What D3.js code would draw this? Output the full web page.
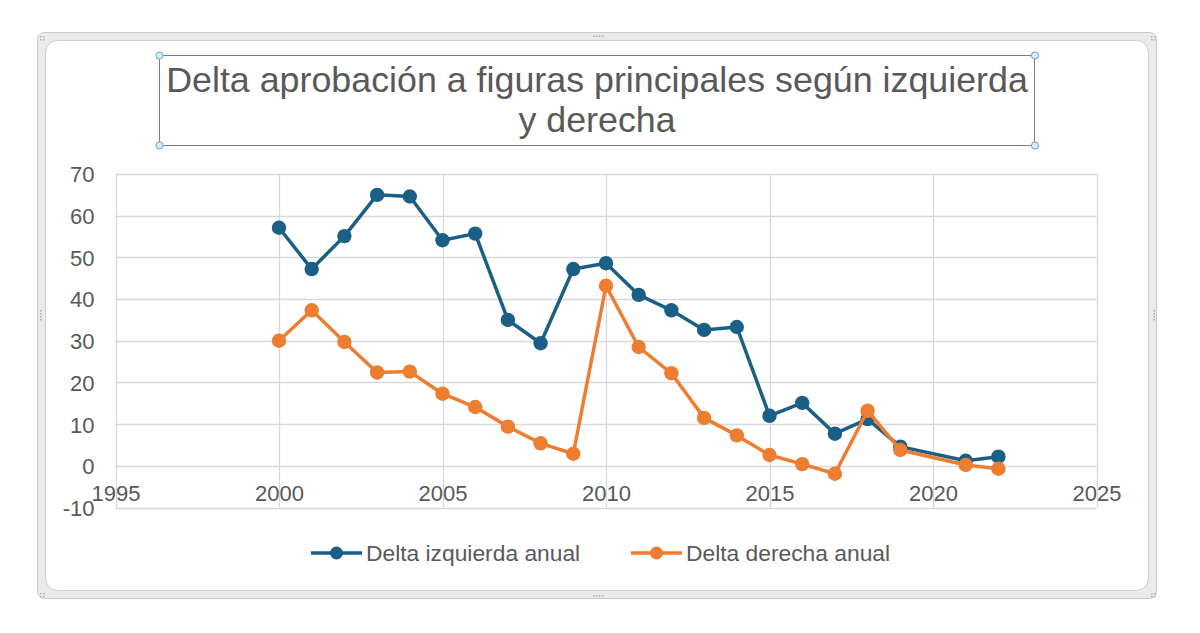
<!DOCTYPE html>
<html>
<head>
<meta charset="utf-8">
<script src="https://cdn.jsdelivr.net/npm/d3@7"></script>
<style>
  html, body { margin: 0; padding: 0; background: #ffffff; }
  svg { display: block; }
  text { font-family: "Liberation Sans", Arial, sans-serif; fill: #595959; }
</style>
</head>
<body>
<svg id="chart" width="1200" height="633"></svg>
<script>
// ---- data ----
const years = [2000, 2001, 2002, 2003, 2004, 2005, 2006, 2007, 2008, 2009, 2010, 2011, 2012, 2013, 2014, 2015, 2016, 2017, 2018, 2019, 2021, 2022];
const deltaIzquierda = [57.1, 47.2, 55.1, 65.0, 64.6, 54.1, 55.7, 35.0, 29.4, 47.2, 48.6, 41.0, 37.3, 32.6, 33.3, 12.0, 15.1, 7.7, 11.2, 4.6, 1.2, 2.2];
const deltaDerecha  = [30.0, 37.3, 29.7, 22.4, 22.6, 17.3, 14.1, 9.4, 5.4, 2.9, 43.2, 28.5, 22.2, 11.5, 7.3, 2.6, 0.4, -1.9, 13.2, 3.8, 0.2, -0.7];
const xTicks = [1995, 2000, 2005, 2010, 2015, 2020, 2025];
const yTicks = [-10, 0, 10, 20, 30, 40, 50, 60, 70];
const seriesNames = ["Delta izquierda anual", "Delta derecha anual"];
const titleLines = ["Delta aprobación a figuras principales según izquierda", "y derecha"];

const colors = ["#1b5f86", "#ed7d31"];

const svg = d3.select("#chart");

// ---- outer frame (chart container) ----
svg.append("rect").attr("x", 37.5).attr("y", 32.5).attr("width", 1119).attr("height", 566)
  .attr("rx", 7).attr("fill", "#ebebeb").attr("stroke", "#c9c9c9");
svg.append("rect").attr("x", 45.5).attr("y", 40.5).attr("width", 1103).attr("height", 550)
  .attr("rx", 12).attr("fill", "#ffffff").attr("stroke", "#cfcfcf");

// handle dots
const dotGroups = [[593, 35.5, "h"], [593, 595, "h"], [40, 310, "v"], [1153.5, 310, "v"]];
dotGroups.forEach(([x, y, o]) => {
  for (let i = 0; i < 4; i++) {
    svg.append("rect")
      .attr("x", o === "h" ? x + i * 3 : x)
      .attr("y", o === "h" ? y : y + i * 3)
      .attr("width", 1.5).attr("height", 1.5).attr("fill", "#a8a8a8");
  }
});
[[40, 36], [1151, 36], [40, 593], [1151, 593]].forEach(([x, y]) => {
  [[0,0],[3,0],[0,3],[3,3]].forEach(([dx,dy]) => {
    svg.append("rect").attr("x", x+dx).attr("y", y+dy).attr("width", 1.5).attr("height", 1.5).attr("fill", "#b0b0b0");
  });
});

// ---- scales ----
const x = d3.scaleLinear().domain([1995, 2025]).range([115.5, 1096.5]);
const y = d3.scaleLinear().domain([-10, 70]).range([507.5, 174]);

// ---- gridlines ----
const grid = svg.append("g");
grid.selectAll("line.h").data(yTicks).join("line")
  .attr("x1", x(1995)).attr("x2", x(2025))
  .attr("y1", d => Math.round(y(d)) + 0.5).attr("y2", d => Math.round(y(d)) + 0.5)
  .attr("stroke", "#d9d9d9").attr("stroke-width", 1.3);
grid.selectAll("line.v").data(xTicks).join("line")
  .attr("y1", y(70)).attr("y2", y(-10))
  .attr("x1", d => Math.round(x(d)) + 0.5).attr("x2", d => Math.round(x(d)) + 0.5)
  .attr("stroke", "#d9d9d9").attr("stroke-width", 1.3);

// ---- axes (labels via d3 axes) ----
const yAxis = d3.axisLeft(y).tickValues(yTicks).tickSize(0).tickPadding(0).tickFormat(d => String(d));
const gy = svg.append("g").attr("transform", `translate(${x(1995) - 21},0)`).call(yAxis);
gy.select(".domain").remove();
gy.selectAll("text").attr("font-size", 22).attr("fill", "#595959")
  .attr("font-family", "Liberation Sans, Arial, sans-serif").attr("dy", "0.36em");

const xAxis = d3.axisBottom(x).tickValues(xTicks).tickSize(0).tickPadding(0).tickFormat(d => String(d));
const gx = svg.append("g").attr("transform", `translate(0,${y(0)})`).call(xAxis);
gx.select(".domain").remove();
gx.selectAll("text").attr("font-size", 22).attr("fill", "#595959")
  .attr("font-family", "Liberation Sans, Arial, sans-serif").attr("dy", 0).attr("y", 35);

// ---- series ----
const series = [deltaIzquierda, deltaDerecha];
const line = d3.line().x(d => x(d[0])).y(d => y(d[1]));
series.forEach((vals, i) => {
  const pts = years.map((yr, j) => [yr, vals[j]]);
  const g = svg.append("g");
  g.append("path").datum(pts).attr("d", line)
    .attr("fill", "none").attr("stroke", colors[i]).attr("stroke-width", 3.5)
    .attr("stroke-linejoin", "round");
  g.selectAll("circle").data(pts).join("circle")
    .attr("cx", d => x(d[0])).attr("cy", d => y(d[1])).attr("r", 7.2)
    .attr("fill", colors[i]);
});

// ---- title ----
svg.append("rect").attr("x", 159.5).attr("y", 55.5).attr("width", 875).attr("height", 90)
  .attr("fill", "none").attr("stroke", "#7f7f7f").attr("stroke-width", 1);
[[159.5, 55.5], [1035, 55.5], [159.5, 145.5], [1035, 145.5]].forEach(([cx, cy]) => {
  svg.append("circle").attr("cx", cx).attr("cy", cy).attr("r", 3.6)
    .attr("fill", "#dce9f7").attr("stroke", "#6f9fd0").attr("stroke-width", 1);
});
svg.append("text").attr("x", 597).attr("y", 92).attr("text-anchor", "middle")
  .attr("font-size", 35.8).attr("fill", "#595959").text(titleLines[0]);
svg.append("text").attr("x", 597).attr("y", 132).attr("text-anchor", "middle")
  .attr("font-size", 35.8).attr("fill", "#595959").text(titleLines[1]);

// ---- legend ----
const legendX = [311, 631];
seriesNames.forEach((name, i) => {
  const lx = legendX[i];
  const g = svg.append("g");
  g.append("line").attr("x1", lx).attr("x2", lx + 51).attr("y1", 553).attr("y2", 553)
    .attr("stroke", colors[i]).attr("stroke-width", 3.5);
  g.append("circle").attr("cx", lx + 25.5).attr("cy", 553).attr("r", 6.5).attr("fill", colors[i]);
  g.append("text").attr("x", lx + 55).attr("y", 561).attr("font-size", 22.8)
    .attr("fill", "#595959").text(name);
});
</script>
</body>
</html>
